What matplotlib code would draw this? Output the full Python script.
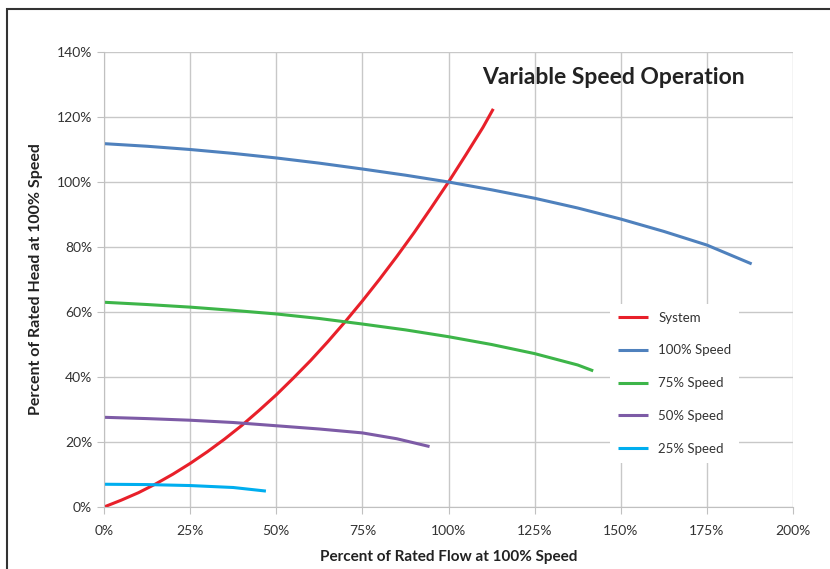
import matplotlib
matplotlib.use('Agg')
import matplotlib.pyplot as plt
from matplotlib.patches import Rectangle
from matplotlib.ticker import FuncFormatter

plt.rcParams['font.family'] = ['Lato', 'DejaVu Sans']

# percent of rated flow / head
system_q = [0, 5, 10, 15, 20, 25, 30, 35, 40, 45, 50, 55, 60, 65, 70, 75, 80, 85, 90, 95,
            100, 105, 110, 113]
system_h = [0, 2.1, 4.4, 7.1, 10.1, 13.4, 17, 20.9, 25.1, 29.7, 34.5, 39.7, 45.1, 50.9, 57,
            63.4, 70.1, 77.1, 84.4, 92.1, 100, 108.3, 116.8, 122.5]

speed100_q = [0, 12.5, 25, 37.5, 50, 62.5, 75, 87.5, 100, 112.5, 125, 137.5, 150, 162.5, 175, 188]
speed100_h = [111.8, 111, 110, 108.8, 107.4, 105.8, 104, 102.1, 100, 97.6, 95, 92, 88.6, 84.8,
              80.6, 74.8]

speed75_q = [0, 12.5, 25, 37.5, 50, 62.5, 75, 87.5, 100, 112.5, 125, 137.5, 142]
speed75_h = [63, 62.3, 61.5, 60.5, 59.4, 58, 56.3, 54.5, 52.4, 50, 47.2, 43.7, 41.9]

speed50_q = [0, 12.5, 25, 37.5, 50, 62.5, 75, 85, 94.5]
speed50_h = [27.6, 27.2, 26.7, 26, 25, 24, 22.8, 21, 18.6]

speed25_q = [0, 12.5, 25, 37.5, 47]
speed25_h = [7, 6.9, 6.6, 6, 4.9]

series = [
    ('System', system_q, system_h, '#E8202A'),
    ('100% Speed', speed100_q, speed100_h, '#4F81BD'),
    ('75% Speed', speed75_q, speed75_h, '#3DB549'),
    ('50% Speed', speed50_q, speed50_h, '#7D5BA6'),
    ('25% Speed', speed25_q, speed25_h, '#00AEEF'),
]

fig = plt.figure(figsize=(8.3, 5.69), dpi=100)
ax = fig.add_axes([104/830, 1 - 507/569, (793 - 104)/830, (507 - 52)/569])

for label, q, h, c in series:
    ax.plot(q, h, color=c, lw=2.2, label=label, solid_capstyle='butt', solid_joinstyle='round')

ax.set_xlim(0, 200)
ax.set_ylim(0, 140)
ax.set_xticks(range(0, 201, 25))
ax.set_yticks(range(0, 141, 20))
ax.xaxis.set_major_formatter(FuncFormatter(lambda v, p: f'{v:.0f}%'))
ax.yaxis.set_major_formatter(FuncFormatter(lambda v, p: f'{v:.0f}%'))
ax.grid(True, color='#c8c8c8', lw=1)
ax.set_axisbelow(True)
for s in ['top', 'right']:
    ax.spines[s].set_visible(False)
for s in ['left', 'bottom']:
    ax.spines[s].set_color('#c0c0c0')
ax.tick_params(colors='#c0c0c0', labelcolor='#333333', labelsize=10, length=5)
ax.tick_params(axis='x', pad=8)

ax.set_xlabel('Percent of Rated Flow at 100% Speed', fontsize=11, fontweight='bold',
              color='#222222', labelpad=9)
ax.set_ylabel('Percent of Rated Head at 100% Speed', fontsize=11.5, fontweight='bold',
              color='#222222', labelpad=10)

fig.text(613/830, 1 - 77/569, 'Variable Speed Operation', fontsize=16.5, fontweight='bold',
         color='#222222', ha='center', va='center')

leg = ax.legend(loc='upper left', bbox_to_anchor=((603 - 104)/689, (507 - 297)/455),
                frameon=True, fontsize=9.5, labelspacing=1.58, handlelength=2.3,
                handletextpad=0.8, borderpad=0.6)
leg.get_frame().set_edgecolor('none')
leg.get_frame().set_facecolor('white')
leg.get_frame().set_alpha(1)
for t in leg.get_texts():
    t.set_color('#333333')

fig.patches.append(Rectangle((7/830, -0.05), 1.1, 1 - 9/569 + 0.05, transform=fig.transFigure,
                             fill=False, edgecolor='#333333', lw=1.5))

fig.savefig('out.png', dpi=100)
